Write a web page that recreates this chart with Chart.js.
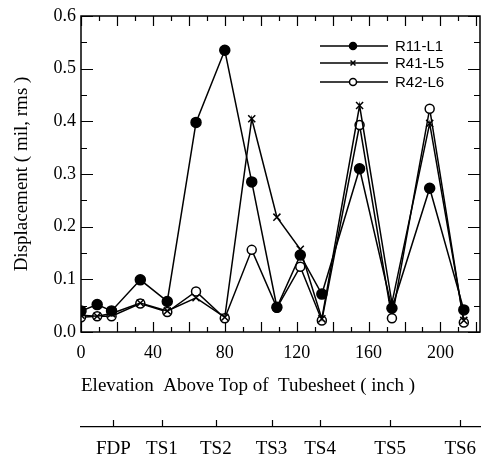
<!DOCTYPE html>
<html>
<head>
<meta charset="utf-8">
<script src="https://cdn.jsdelivr.net/npm/chart.js@4.4.0/dist/chart.umd.min.js"></script>
<style>
html,body{margin:0;padding:0;background:#fff;}
#wrap{width:488px;height:464px;position:relative;}
</style>
</head>
<body>
<div id="wrap"><canvas id="c"></canvas></div>
<script>
// ---- data ----
const elevation = [0, 9, 17, 33, 48, 64, 80, 95, 109, 122, 134, 155, 173, 194, 213];
const r11L1 = [0.040, 0.052, 0.040, 0.099, 0.058, 0.398, 0.535, 0.285, 0.047, 0.146, 0.072, 0.310, 0.045, 0.273, 0.042];
const r41L5 = [0.032, 0.030, 0.035, 0.055, 0.040, 0.065, 0.028, 0.405, 0.218, 0.157, 0.025, 0.430, 0.055, 0.396, 0.022];
const r42L6 = [0.028, 0.030, 0.030, 0.054, 0.038, 0.077, 0.026, 0.156, 0.046, 0.124, 0.022, 0.393, 0.026, 0.424, 0.018];
const seriesNames = ['R11-L1', 'R41-L5', 'R42-L6'];
const supportLabels = ['FDP', 'TS1', 'TS2', 'TS3', 'TS4', 'TS5', 'TS6'];
const supportElevation = [18, 45, 75, 106, 133, 172, 211];
const xTickLabels = [0, 40, 80, 120, 160, 200];
const yTickLabels = ['0.0', '0.1', '0.2', '0.3', '0.4', '0.5', '0.6'];

const SERIF = '"Liberation Serif", "DejaVu Serif", serif';
const SANS = '"Liberation Sans", Arial, sans-serif';

function pts(ys) { return elevation.map((x, i) => ({ x: x, y: ys[i] })); }

const styles = [
  { pointStyle: 'circle', radius: 5, bg: '#000' },
  { pointStyle: 'crossRot', radius: 5, bg: '#000' },
  { pointStyle: 'circle', radius: 4.5, bg: '#fff' }
];
const seriesData = [r11L1, r41L5, r42L6];

const datasets = seriesData.map((ys, i) => ({
  label: seriesNames[i],
  data: pts(ys),
  showLine: true,
  borderColor: '#000',
  borderWidth: 1.5,
  tension: 0,
  pointStyle: styles[i].pointStyle,
  pointRadius: styles[i].radius,
  pointBackgroundColor: styles[i].bg,
  pointBorderColor: '#000',
  pointBorderWidth: 1.5
}));

function drawMarker(ctx, style, x, y, r) {
  ctx.save();
  ctx.strokeStyle = '#000';
  ctx.lineWidth = 1.5;
  if (style.pointStyle === 'circle') {
    ctx.beginPath();
    ctx.arc(x, y, r, 0, Math.PI * 2);
    ctx.fillStyle = style.bg;
    ctx.fill();
    ctx.stroke();
  } else {
    const d = r * Math.SQRT1_2;
    ctx.beginPath();
    ctx.moveTo(x - d, y - d); ctx.lineTo(x + d, y + d);
    ctx.moveTo(x + d, y - d); ctx.lineTo(x - d, y + d);
    ctx.stroke();
  }
  ctx.restore();
}

const framePlugin = {
  id: 'frameTicks',
  afterDraw(chart) {
    const ctx = chart.ctx;
    const a = chart.chartArea;
    const xs = chart.scales.x, ys = chart.scales.y, x2 = chart.scales.x2;
    ctx.save();
    ctx.strokeStyle = '#000';
    ctx.lineWidth = 1.5;
    ctx.strokeRect(a.left, a.top, a.right - a.left, a.bottom - a.top);
    ctx.lineWidth = 1.2;
    ctx.beginPath();
    xs.ticks.forEach(t => {
      const v = t.value;
      const p = Math.round(xs.getPixelForValue(v)) + 0.5;
      const len = (Math.round(v) % 20 === 0) ? 10 : 5;
      ctx.moveTo(p, a.bottom); ctx.lineTo(p, a.bottom - len);
      ctx.moveTo(p, a.top); ctx.lineTo(p, a.top + len);
    });
    ys.ticks.forEach(t => {
      const v = t.value;
      const p = Math.round(ys.getPixelForValue(v)) + 0.5;
      const major = Math.abs(v * 10 - Math.round(v * 10)) < 1e-6;
      const len = major ? 12 : 6;
      ctx.moveTo(a.left, p); ctx.lineTo(a.left + len, p);
      ctx.moveTo(a.right, p); ctx.lineTo(a.right - len, p);
    });
    x2.ticks.forEach(t => {
      const p = Math.round(x2.getPixelForValue(t.value)) + 0.5;
      ctx.moveTo(p, x2.top); ctx.lineTo(p, x2.top - 7);
    });
    ctx.stroke();

    // legend inside plot area
    const x0 = a.right - 160;
    const rowsY = [a.top + 30, a.top + 47, a.top + 66];
    ctx.font = '15px ' + SANS;
    ctx.fillStyle = '#000';
    ctx.textBaseline = 'middle';
    ctx.textAlign = 'left';
    chart.data.datasets.forEach((ds, i) => {
      const y = rowsY[i];
      ctx.lineWidth = 1.5;
      ctx.beginPath();
      ctx.moveTo(x0, y); ctx.lineTo(x0 + 68, y);
      ctx.stroke();
      drawMarker(ctx, styles[i], x0 + 33, y, 3.5);
      ctx.fillText(ds.label, x0 + 75, y + 1);
    });
    ctx.restore();
  }
};

new Chart(document.getElementById('c'), {
  type: 'scatter',
  data: { datasets: datasets },
  options: {
    responsive: true,
    maintainAspectRatio: false,
    animation: false,
    layout: { padding: { top: 16, right: 8, left: 0, bottom: 0 } },
    plugins: { legend: { display: false }, tooltip: { enabled: false } },
    scales: {
      x: {
        type: 'linear',
        position: 'bottom',
        min: 0, max: 222,
        weight: 1,
        grid: { display: false, drawTicks: false },
        border: { display: false },
        ticks: {
          stepSize: 10,
          includeBounds: false,
          autoSkip: false,
          maxRotation: 0,
          padding: 10,
          color: '#000',
          font: { family: SERIF, size: 18 },
          callback: v => (xTickLabels.indexOf(Math.round(v)) >= 0 && Math.abs(v - Math.round(v)) < 1e-6) ? String(Math.round(v)) : ''
        },
        title: {
          display: true,
          text: 'Elevation  Above Top of  Tubesheet ( inch )',
          align: 'start',
          color: '#000',
          font: { family: SERIF, size: 19 },
          padding: { top: 0, bottom: 30 }
        },
        afterFit: s => { s.height = 95; }
      },
      x2: {
        type: 'linear',
        position: 'bottom',
        min: 0, max: 222,
        weight: 2,
        grid: { display: false, drawTicks: false },
        border: { display: true, color: '#000', width: 1.2 },
        afterBuildTicks: s => { s.ticks = supportElevation.map(v => ({ value: v })); },
        ticks: {
          autoSkip: false,
          maxRotation: 0,
          padding: 11,
          color: '#000',
          font: { family: SERIF, size: 19 },
          callback: (v, i) => supportLabels[i]
        },
        afterFit: s => { s.height = 37; }
      },
      y: {
        type: 'linear',
        position: 'left',
        min: 0, max: 0.6,
        grid: { display: false, drawTicks: false },
        border: { display: false },
        ticks: {
          stepSize: 0.05,
          autoSkip: false,
          padding: 5,
          color: '#000',
          font: { family: SERIF, size: 18 },
          callback: v => {
            const k = Math.round(v * 10);
            return Math.abs(v * 10 - k) < 1e-6 ? yTickLabels[k] : '';
          }
        },
        title: {
          display: true,
          text: 'Displacement ( mil, rms )',
          color: '#000',
          font: { family: SERIF, size: 19 },
          padding: { top: 11, bottom: 0 }
        },
        afterFit: s => { s.width = 81; }
      }
    }
  },
  plugins: [framePlugin]
});
</script>
</body>
</html>
